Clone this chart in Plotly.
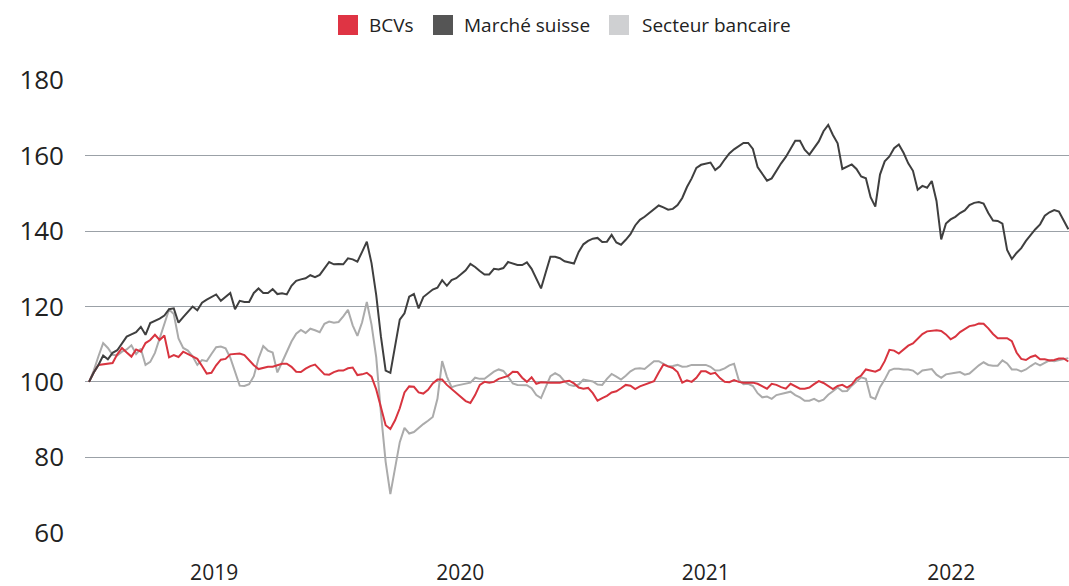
import pandas as pd
import plotly.graph_objects as go

# Weekly observations (Fridays), Jan 2019 - Dec 2022, index base 100
dates = pd.date_range("2019-01-04", periods=209, freq="7D")

marche_suisse = [
    100, 102.5, 104.5, 107, 106, 107.7, 108.4, 110.3, 112, 112.6,
    113.2, 114.6, 112.5, 115.6, 116.1, 116.8, 117.6, 119.3, 119.5, 115.7,
    117.2, 118.7, 120, 119, 121, 121.8, 122.5, 123.2, 121.5, 122.5,
    123.6, 119.3, 121.5, 121.2, 121.2, 123.6, 124.8, 123.6, 123.6, 124.6,
    123.3, 123.5, 123.2, 125.5, 126.8, 127.2, 127.5, 128.3, 127.8, 128.4,
    130, 131.8, 131.2, 131.3, 131.2, 132.8, 132.5, 131.9, 134.5, 137.2,
    131.5, 123, 112, 103, 102.4, 110, 116.5, 118.2, 122.6, 123.3,
    119.5, 122.5, 123.4, 124.5, 125, 127, 125.5, 127, 127.5, 128.5,
    129.6, 131.3, 130.5, 129.4, 128.5, 128.5, 130, 129.8, 130.2, 131.8,
    131.4, 131, 131, 131.7, 130, 127.4, 124.8, 129, 133.2, 133.2,
    132.8, 132, 131.6, 131.4, 134.5, 136.5, 137.4, 138, 138.2, 137.1,
    137.2, 139, 137, 136.4, 137.7, 139.2, 141.5, 143, 143.8, 144.8,
    146, 146.8, 146.3, 145.7, 145.9, 146.9, 148.8, 151.7, 154, 156.8,
    157.6, 157.8, 158.2, 156.2, 157.2, 159, 160.6, 161.7, 162.6, 163.4,
    163.4, 161.8, 157, 155.1, 153.4, 154, 156.2, 158, 159.7, 161.8,
    164, 164, 161.6, 160.3, 162.1, 163.8, 166.5, 168.2, 165.5, 163.3,
    156.5, 157, 157.7, 156.5, 154.5, 154, 149, 146.5, 155, 158.5,
    159.8, 162, 163, 160.8, 158, 156, 151, 152, 151.5, 153.3,
    148, 137.8, 142, 143.1, 143.8, 144.8, 145.5, 146.9, 147.5, 147.7,
    147.3, 144.8, 142.8, 142.7, 142, 135, 132.6, 134.2, 135.5, 137.4,
    139.1, 140.5, 141.8, 144.1, 145, 145.6, 145.2, 143, 140.5,
]

bcvs = [
    100, 102.5, 104.5, 104.7, 104.8, 105, 107.3, 109, 107.8, 106.7,
    108.6, 108, 110.3, 111.1, 112.5, 111.1, 112.3, 106.5, 107.1, 106.6,
    108, 107.4, 106.9, 106.1, 104.2, 102.2, 102.4, 104.4, 105.9, 106.1,
    107.3, 107.5, 107.5, 107.1, 105.8, 104.4, 103.4, 103.7, 104, 104,
    104.4, 104.8, 104.8, 104, 102.7, 102.6, 103.5, 104.2, 104.6, 103.3,
    102, 101.9, 102.6, 103, 103, 103.6, 103.8, 101.8, 102, 102.4,
    101.4, 98, 93, 88.5, 87.5, 89.8, 93, 97.2, 98.8, 98.7,
    97.2, 96.9, 97.9, 99.6, 100.6, 100.6, 99.2, 98.1, 97, 95.8,
    94.9, 94.4, 96.5, 99.2, 100, 99.8, 100, 100.8, 101.2, 101.6,
    102.7, 102.6, 101.1, 100, 101.2, 99.5, 99.9, 99.8, 99.8, 99.8,
    99.8, 100.1, 100.3, 99.6, 98.5, 98.2, 98.4, 97, 95, 95.7,
    96.3, 97.2, 97.5, 98.3, 99.2, 99, 98.1, 98.8, 99.2, 99.6,
    100.2, 102.5, 104.6, 104.1, 103.7, 102.6, 99.8, 100.4, 100, 101.1,
    102.8, 102.8, 102.1, 102.4, 101, 100, 99.9, 100.5, 100, 99.8,
    99.8, 99.8, 99.5, 98.9, 98.2, 99.5, 99.2, 98.6, 98.2, 99.5,
    98.8, 98.2, 98.2, 98.5, 99.4, 100.2, 99.7, 98.9, 98.1, 98.9,
    99.2, 98.5, 99.3, 100.9, 101.7, 103.3, 103, 102.7, 103.3, 105.5,
    108.5, 108.3, 107.5, 108.5, 109.6, 110.2, 111.4, 112.7, 113.4, 113.6,
    113.7, 113.5, 112.6, 111.3, 112, 113.2, 114.1, 114.8, 115, 115.5,
    115.4, 114.2, 112.7, 111.6, 111.6, 111.6, 110.8, 107.8, 106.1, 105.8,
    106.6, 107, 106, 106, 105.7, 105.8, 106.2, 106.2, 105.4,
]

secteur_bancaire = [
    100, 103, 106.8, 110.3, 109, 107.2, 107, 108, 108.6, 109.7,
    107.4, 108.8, 104.5, 105.3, 107.7, 111.5, 115.8, 119.2, 118, 111.5,
    109, 108.3, 106.8, 104.5, 105.8, 105.5, 107.4, 109.2, 109.4, 108.9,
    106.4, 102.7, 99, 98.9, 99.4, 101.5, 106.2, 109.5, 108.3, 107.8,
    102.5, 105.2, 107.9, 110.7, 112.8, 113.8, 113, 114.1, 113.7, 113.2,
    115.4, 116, 115.7, 115.9, 117.4, 119.1, 115, 112.2, 115.8, 121.2,
    115.2, 106.5, 91.7, 78.8, 70.2, 77, 84, 87.8, 86.3, 86.7,
    87.8, 88.8, 89.7, 90.7, 95.5, 105.5, 101.4, 98.6, 99, 99.3,
    99.6, 99.8, 101.1, 100.8, 100.8, 101.8, 102.7, 103.3, 102.9, 101.4,
    99.6, 99.2, 99.2, 99.1, 98.3, 96.5, 95.7, 98.5, 101.5, 102.3,
    101.6, 100.1, 99.2, 98.9, 99.3, 100.6, 100.3, 100.1, 99.3, 99.2,
    100.8, 102.1, 101.4, 100.6, 101.6, 102.8, 103.5, 103.6, 103.4, 104.4,
    105.5, 105.5, 104.8, 104.1, 104.2, 104.5, 104, 104.1, 104.5, 104.5,
    104.5, 104.5, 104, 103, 103.1, 103.6, 104.4, 104.8, 100.5, 99.4,
    99.5, 98.9, 97, 95.9, 96.1, 95.5, 96.5, 96.8, 97.2, 97.4,
    96.5, 95.9, 95, 95, 95.5, 94.8, 95.3, 96.6, 97.5, 98.5,
    97.5, 97.6, 99, 100.1, 101.2, 100.8, 96, 95.5, 98.6, 100.6,
    103, 103.5, 103.5, 103.3, 103.3, 103, 102, 103, 103.2, 103.4,
    101.9, 101.1, 102, 102.1, 102.4, 102.6, 101.9, 102.2, 103.4, 104.4,
    105.2, 104.5, 104.3, 104.3, 105.7, 104.9, 103.3, 103.3, 102.8, 103.3,
    104.2, 105, 104.4, 105, 105.7, 105.5, 105.8, 106, 106.3,
]

series_names = ["BCVs", "Marché suisse", "Secteur bancaire"]
year_labels = ["2019", "2020", "2021", "2022"]
year_tick_dates = ["2019-07-09", "2020-07-09", "2021-07-09", "2022-07-09"]
y_ticks = [60, 80, 100, 120, 140, 160, 180]

line_colors = {"BCVs": "#d8343f", "Marché suisse": "#3f3f3f", "Secteur bancaire": "#ababab"}
legend_colors = {"BCVs": "#df3444", "Marché suisse": "#555555", "Secteur bancaire": "#cfd0d2"}
values = {"BCVs": bcvs, "Marché suisse": marche_suisse, "Secteur bancaire": secteur_bancaire}

FONT = "Open Sans, Noto Sans, sans-serif"
W, H = 1069, 586
ML, MR, MT, MB = 85, 0, 80, 53
PW, PH = W - ML - MR, H - MT - MB


def px_to_paper_x(px):
    return (px - ML) / PW


def px_to_paper_y(py):
    return (H - MB - py) / PH


fig = go.Figure()

# drawing order: light grey at the back, dark on top
for name in ["Secteur bancaire", "BCVs", "Marché suisse"]:
    fig.add_trace(go.Scatter(
        x=dates, y=values[name], mode="lines", name=name, showlegend=False,
        line=dict(color=line_colors[name], width=2), hoverinfo="x+y+name",
    ))

# manual legend with large square swatches
legend_layout = {  # swatch left edge (px), text left edge (px)
    "BCVs": (338, 367),
    "Marché suisse": (433, 462),
    "Secteur bancaire": (609, 640),
}
shapes = []
annotations = []
for name in series_names:
    sx, tx = legend_layout[name]
    shapes.append(dict(
        type="rect", xref="paper", yref="paper",
        x0=px_to_paper_x(sx), x1=px_to_paper_x(sx + 20),
        y0=px_to_paper_y(35), y1=px_to_paper_y(15),
        fillcolor=legend_colors[name], line=dict(width=0),
    ))
    annotations.append(dict(
        text=name, xref="paper", yref="paper",
        x=px_to_paper_x(tx), y=px_to_paper_y(25),
        xanchor="left", yanchor="middle", showarrow=False,
        font=dict(family=FONT, size=19, color="#222222"),
    ))

fig.update_layout(
    width=W, height=H,
    margin=dict(l=ML, r=MR, t=MT, b=MB, autoexpand=False),
    paper_bgcolor="white", plot_bgcolor="white",
    font=dict(family=FONT, color="#222222"),
    showlegend=False,
    shapes=shapes,
    annotations=annotations,
)

fig.update_xaxes(
    type="date", automargin=False,
    range=["2018-12-29", "2022-12-31"],
    tickvals=year_tick_dates, ticktext=year_labels,
    showgrid=False, zeroline=False, showline=False, ticks="",
    tickfont=dict(size=21, color="#222222"),
    ticklabelstandoff=25,
)

fig.update_yaxes(
    automargin=False,
    range=[59.9, 180.1],
    tickvals=y_ticks,
    showgrid=True, gridcolor="#9ba1a7", gridwidth=1.4,
    zeroline=False, showline=False, ticks="",
    tickfont=dict(size=26, color="#222222"),
    ticklabelstandoff=20,
)

fig.write_html(
    "out.html",
    config={"displayModeBar": False},
    post_script="document.body.style.margin='0';document.body.style.overflow='hidden';",
)
